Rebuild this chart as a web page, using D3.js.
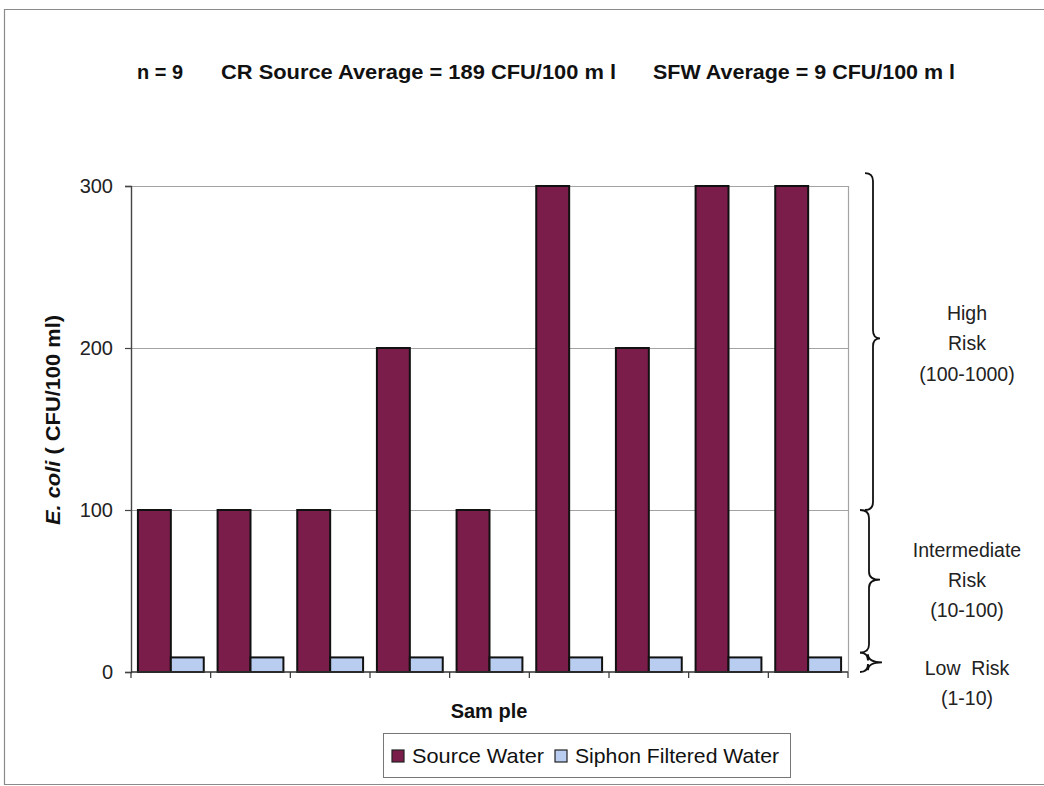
<!DOCTYPE html>
<html>
<head>
<meta charset="utf-8">
<script src="https://cdn.jsdelivr.net/npm/d3@7"></script>
<style>
  html, body { margin: 0; padding: 0; background: #ffffff; }
  svg { display: block; font-family: Arial, "Liberation Sans", sans-serif; }
</style>
</head>
<body>
<svg id="chart" width="1044" height="786"></svg>
<script>
// Samples and E. coli counts (CFU/100 ml)
const samples = ["1", "2", "3", "4", "5", "6", "7", "8", "9"];
const sourceWater = [100, 100, 100, 200, 100, 300, 200, 300, 300];
const siphonFiltered = [9, 9, 9, 9, 9, 9, 9, 9, 9];
const seriesNames = ["Source Water", "Siphon Filtered Water"];
const seriesColors = ["#7b1d4b", "#b9cdf0"];
const yTicks = [0, 100, 200, 300];

// Risk bands shown with braces on the right (value ranges on the y scale)
const riskBands = [
  { lines: ["High", "Risk", "(100-1000)"], from: 100, to: 308, tip: 206 },
  { lines: ["Intermediate", "Risk", "(10-100)"], from: 12, to: 100, tip: 57 },
  { lines: ["Low  Risk", "(1-10)"], from: 0, to: 12, tip: 6 }
];

const svg = d3.select("#chart");

// Outer frame (open on the right)
svg.append("path")
  .attr("d", "M1044,9.5 L4.5,9.5 L4.5,784.5 L1044,784.5")
  .attr("fill", "none").attr("stroke", "#8a8a8a").attr("stroke-width", 1.2);

const plot = { left: 131, right: 848, top: 186, bottom: 672 };

const x0 = d3.scaleBand().domain(samples).range([plot.left, plot.right]).paddingInner(0).paddingOuter(0);
const x1 = d3.scaleBand().domain(seriesNames).range([0, x0.bandwidth()]).paddingInner(0).paddingOuter(0.21);
const y = d3.scaleLinear().domain([0, 300]).range([plot.bottom, plot.top]);

// Gridlines
svg.append("g").selectAll("line").data(yTicks.filter(d => d > 0)).join("line")
  .attr("x1", plot.left).attr("x2", plot.right)
  .attr("y1", d => Math.round(y(d)) + 0.5).attr("y2", d => Math.round(y(d)) + 0.5)
  .attr("stroke", "#a3a3a3").attr("stroke-width", 1);

// Right border of plot area
svg.append("line")
  .attr("x1", plot.right + 0.5).attr("x2", plot.right + 0.5)
  .attr("y1", plot.top).attr("y2", plot.bottom)
  .attr("stroke", "#a3a3a3").attr("stroke-width", 1.2);

// Bars
const rows = samples.map((s, i) => ({ s, vals: [sourceWater[i], siphonFiltered[i]] }));
const groups = svg.append("g").selectAll("g").data(rows).join("g")
  .attr("transform", d => `translate(${x0(d.s)},0)`);
groups.selectAll("rect").data(d => d.vals.map((v, k) => ({ v, k }))).join("rect")
  .attr("x", d => x1(seriesNames[d.k]))
  .attr("width", x1.bandwidth())
  .attr("y", d => y(d.v))
  .attr("height", d => y(0) - y(d.v))
  .attr("fill", d => seriesColors[d.k])
  .attr("stroke", "#111")
  .attr("stroke-width", 2);

// Y axis
const yAxis = svg.append("g")
  .attr("transform", `translate(${plot.left},0)`)
  .call(d3.axisLeft(y).tickValues(yTicks).tickSize(6).tickPadding(12).tickFormat(d3.format("d")));
yAxis.select(".domain").attr("stroke", "#444").attr("stroke-width", 1.4);
yAxis.selectAll(".tick line").attr("stroke", "#444").attr("stroke-width", 1.2);
yAxis.selectAll(".tick text").attr("font-size", 20).attr("fill", "#222")
  .attr("font-family", "Arial, 'Liberation Sans', sans-serif");

// X axis with ticks at category boundaries
const bounds = samples.map(s => x0(s)).concat([plot.right]);
svg.append("line")
  .attr("x1", plot.left).attr("x2", plot.right)
  .attr("y1", plot.bottom).attr("y2", plot.bottom)
  .attr("stroke", "#333").attr("stroke-width", 1.6);
svg.append("g").selectAll("line").data(bounds).join("line")
  .attr("x1", d => d).attr("x2", d => d)
  .attr("y1", plot.bottom).attr("y2", plot.bottom + 6)
  .attr("stroke", "#333").attr("stroke-width", 1.2);

// Title pieces
const titleParts = [
  { t: "n = 9", x: 137, w: 46 },
  { t: "CR Source Average = 189 CFU/100 m l", x: 221, w: 395 },
  { t: "SFW Average = 9 CFU/100 m l", x: 653, w: 302 }
];
svg.append("g").selectAll("text").data(titleParts).join("text")
  .attr("x", d => d.x).attr("y", 79)
  .attr("font-size", 21).attr("font-weight", "bold").attr("fill", "#111")
  .attr("textLength", d => d.w).attr("lengthAdjust", "spacingAndGlyphs")
  .text(d => d.t);

// Y axis title
const yTitle = svg.append("text")
  .attr("transform", "translate(60,420) rotate(-90)")
  .attr("text-anchor", "middle")
  .attr("font-size", 20).attr("font-weight", "bold").attr("fill", "#111")
  .attr("textLength", 210).attr("lengthAdjust", "spacingAndGlyphs");
yTitle.append("tspan").attr("font-style", "italic").text("E. coli");
yTitle.append("tspan").text(" ( CFU/100 ml)");

// X axis title
svg.append("text")
  .attr("x", 489).attr("y", 718)
  .attr("text-anchor", "middle")
  .attr("font-size", 20).attr("font-weight", "bold").attr("fill", "#111")
  .text("Sam ple");

// Legend
const legend = svg.append("g");
legend.append("rect")
  .attr("x", 383.5).attr("y", 733.5).attr("width", 407).attr("height", 44)
  .attr("fill", "#fff").attr("stroke", "#777").attr("stroke-width", 1);
const legendItems = [
  { name: seriesNames[0], color: seriesColors[0], sx: 392, tx: 412, w: 132 },
  { name: seriesNames[1], color: seriesColors[1], sx: 555, tx: 575, w: 204 }
];
const li = legend.selectAll("g").data(legendItems).join("g");
li.append("rect")
  .attr("x", d => d.sx).attr("y", 750).attr("width", 12).attr("height", 12)
  .attr("fill", d => d.color).attr("stroke", "#222").attr("stroke-width", 1.2);
li.append("text")
  .attr("x", d => d.tx).attr("y", 763)
  .attr("font-size", 21).attr("fill", "#111")
  .attr("textLength", d => d.w).attr("lengthAdjust", "spacingAndGlyphs")
  .text(d => d.name);

// Braces and risk labels
function bracePath(yTop, yBot, yTip, xa, xm, xt) {
  const r = 8;
  return `M${xa},${yTop} Q${xm},${yTop} ${xm},${yTop + r} L${xm},${yTip - r} ` +
         `Q${xm},${yTip} ${xt},${yTip} Q${xm},${yTip} ${xm},${yTip + r} ` +
         `L${xm},${yBot - r} Q${xm},${yBot} ${xa},${yBot}`;
}
const braceGeom = [
  { xa: 865, xm: 873, xt: 880, textY: [313, 343, 374] },
  { xa: 860, xm: 869, xt: 880, textY: [550, 580, 610] },
  { xa: 860, xm: 868, xt: 882, textY: [668, 698] }
];
riskBands.forEach((b, i) => {
  const g = braceGeom[i];
  const yTop = y(b.to), yBot = y(b.from);
  const yTip = i === 2 ? (yTop + yBot) / 2 : y(b.tip);
  svg.append("path")
    .attr("d", bracePath(yTop, yBot, yTip, g.xa, g.xm, g.xt))
    .attr("fill", "none").attr("stroke", "#111").attr("stroke-width", 1.8);
  b.lines.forEach((t, k) => {
    svg.append("text")
      .attr("x", 967).attr("y", g.textY[k] + 7)
      .attr("text-anchor", "middle")
      .attr("font-size", 19.5).attr("fill", "#222")
      .style("white-space", "pre")
      .text(t);
  });
});
</script>
</body>
</html>
